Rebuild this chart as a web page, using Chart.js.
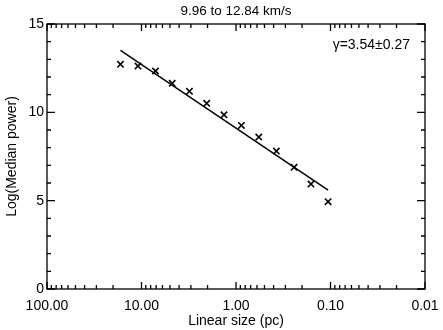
<!DOCTYPE html>
<html>
<head>
<meta charset="utf-8">
<script src="https://cdn.jsdelivr.net/npm/chart.js@4.4.1/dist/chart.umd.min.js"></script>
<style>
  html, body { margin: 0; padding: 0; background: #fff; }
  #wrap { width: 443px; height: 330px; }
</style>
</head>
<body>
<div id="wrap"><canvas id="c" width="443" height="330"></canvas></div>
<script>
// ---- data ----
const chartTitle = '9.96 to 12.84 km/s';
const gammaLabel = 'γ=3.54±0.27';
const xAxisTitle = 'Linear size (pc)';
const yAxisTitle = 'Log(Median power)';

const linearSize = [16.7, 10.9, 7.11, 4.73, 3.11, 2.04, 1.34, 0.877, 0.574, 0.374, 0.243, 0.161, 0.106];
const logMedianPower = [12.72, 12.62, 12.34, 11.64, 11.19, 10.51, 9.86, 9.26, 8.60, 7.81, 6.89, 5.94, 4.94];

const fitX = [16.7, 0.106];
const fitY = [13.51, 5.60];

const xTickValues = [100, 10, 1, 0.1, 0.01];
const xTickLabels = ['100.00', '10.00', '1.00', '0.10', '0.01'];
const yTickValues = [0, 5, 10, 15];
const yTickLabels = ['0', '5', '10', '15'];

const FONT = '"Liberation Sans", Arial, Helvetica, sans-serif';

const frameTicks = {
  id: 'frameTicks',
  afterDatasetsDraw(chart) {
    const { ctx, chartArea: a, scales: { x, y } } = chart;
    ctx.save();
    ctx.strokeStyle = '#000';
    ctx.lineWidth = 1.3;
    ctx.strokeRect(a.left, a.top, a.right - a.left, a.bottom - a.top);
    ctx.beginPath();
    for (let e = -2; e <= 2; e++) {
      for (let m = 1; m <= 9; m++) {
        const v = m * Math.pow(10, e);
        if (v > 100.0001) continue;
        const px = x.getPixelForValue(v);
        const L = m === 1 ? 7 : 4;
        ctx.moveTo(px, a.bottom); ctx.lineTo(px, a.bottom - L);
        ctx.moveTo(px, a.top); ctx.lineTo(px, a.top + L);
      }
    }
    for (let v = 0; v <= 15; v++) {
      const py = y.getPixelForValue(v);
      const L = v % 5 === 0 ? 8 : 4;
      ctx.moveTo(a.left, py); ctx.lineTo(a.left + L, py);
      ctx.moveTo(a.right, py); ctx.lineTo(a.right - L, py);
    }
    ctx.stroke();
    ctx.fillStyle = '#000';
    ctx.font = '14px ' + FONT;
    ctx.textAlign = 'right';
    ctx.textBaseline = 'middle';
    ctx.fillText(gammaLabel, a.right - 15, a.top + 21);
    ctx.font = '13.5px ' + FONT;
    ctx.textAlign = 'center';
    ctx.fillText(chartTitle, (a.left + a.right) / 2, 11);
    ctx.restore();
  }
};

new Chart(document.getElementById('c'), {
  type: 'scatter',
  data: {
    datasets: [
      {
        label: 'data',
        data: linearSize.map((v, i) => ({ x: v, y: logMedianPower[i] })),
        pointStyle: 'crossRot',
        pointRadius: 4.5,
        pointBorderWidth: 1.6,
        borderColor: '#000',
        backgroundColor: '#000',
        showLine: false
      },
      {
        label: 'fit',
        type: 'line',
        data: fitX.map((v, i) => ({ x: v, y: fitY[i] })),
        borderColor: '#000',
        borderWidth: 1.5,
        pointRadius: 0,
        fill: false
      }
    ]
  },
  options: {
    responsive: false,
    animation: false,
    devicePixelRatio: 1,
    layout: { padding: { left: 0, right: 18, top: 24, bottom: 0 } },
    plugins: { legend: { display: false }, tooltip: { enabled: false }, title: { display: false } },
    scales: {
      x: {
        type: 'logarithmic',
        reverse: true,
        min: 0.01,
        max: 100,
        grid: { display: false, drawTicks: false, tickLength: 0 },
        border: { display: false },
        afterBuildTicks: s => { s.ticks = xTickValues.map(v => ({ value: v })); },
        afterFit: s => { s.height = 41; s.paddingLeft = 0; s.paddingRight = 0; },
        ticks: {
          autoSkip: false, maxRotation: 0, minRotation: 0, padding: 9,
          color: '#000', font: { family: FONT, size: 14 },
          callback: (v) => { const i = xTickValues.findIndex(t => Math.abs(t - v) < t * 1e-6); return i >= 0 ? xTickLabels[i] : ''; }
        },
        title: { display: true, text: xAxisTitle, color: '#000', font: { family: FONT, size: 14 }, padding: { top: 0, bottom: 0 } }
      },
      y: {
        min: 0,
        max: 15,
        grid: { display: false, drawTicks: false, tickLength: 0 },
        border: { display: false },
        afterBuildTicks: s => { s.ticks = yTickValues.map(v => ({ value: v })); },
        afterFit: s => { s.width = 47; },
        ticks: {
          padding: 3, color: '#000', font: { family: FONT, size: 14 },
          callback: (v) => { const i = yTickValues.indexOf(v); return i >= 0 ? yTickLabels[i] : ''; }
        },
        title: { display: true, text: yAxisTitle, color: '#000', font: { family: FONT, size: 14 }, padding: { top: 4, bottom: 0 } }
      }
    }
  },
  plugins: [frameTicks]
});
</script>
</body>
</html>
